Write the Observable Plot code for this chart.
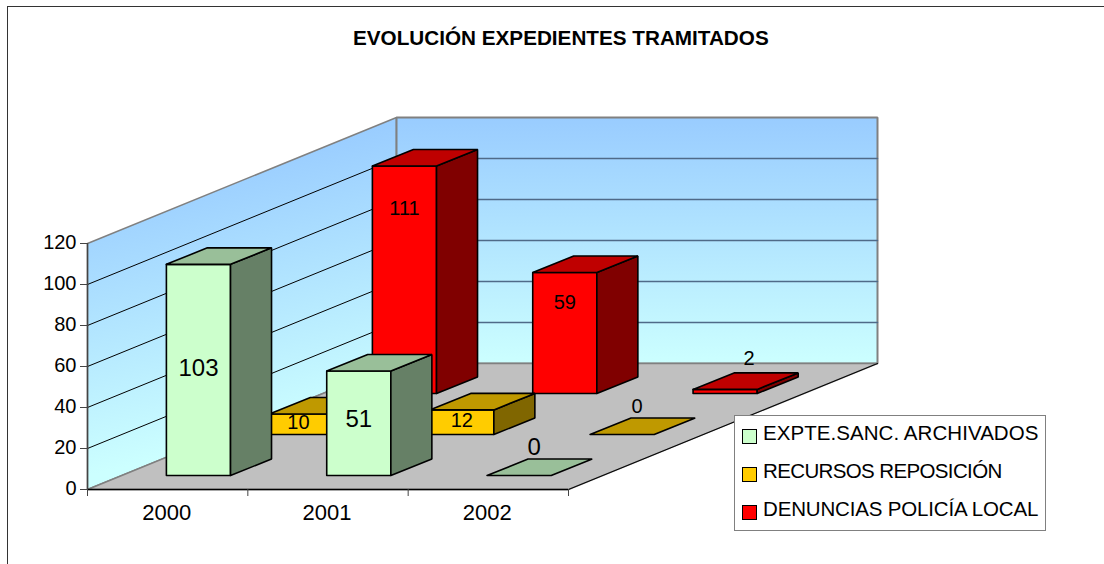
<!DOCTYPE html>
<html>
<head>
<meta charset="utf-8">
<script src="https://cdn.jsdelivr.net/npm/d3@7"></script>
<script src="https://cdn.jsdelivr.net/npm/@observablehq/plot@0.6"></script>
<style>
html,body{margin:0;padding:0;background:#fff;overflow:hidden}
body{width:1104px;height:564px;position:relative;font-family:"Liberation Sans",Arial,sans-serif;color:#000}
#frame{position:absolute;left:7px;top:6px;width:1097px;height:558px;border-left:1.5px solid #333;border-top:1.5px solid #333;box-sizing:border-box}
#chart{position:absolute;left:0;top:0}
#chart svg{display:block;background:none}
#title{position:absolute;left:353px;top:26px;font-weight:bold;font-size:20.7px;line-height:24px;white-space:nowrap}
#legend{position:absolute;left:734px;top:415px;width:312px;height:116px;box-sizing:border-box;border:1.5px solid #808080;background:#fff}
.row{position:absolute;left:7px;height:20px;line-height:20px;font-size:20.5px;white-space:nowrap}
.sw{position:absolute;left:0;top:3px;width:15px;height:15px;box-sizing:border-box;border:1.5px solid #000}
.lb{position:absolute;left:21px;top:-3px}
</style>
</head>
<body>
<div id="frame"></div>
<div id="chart"></div>
<div id="title"></div>
<div id="legend"></div>
<script>
const titleText = "EVOLUCIÓN EXPEDIENTES TRAMITADOS";
const categories = ["2000", "2001", "2002"];
const seriesNames = ["EXPTE.SANC. ARCHIVADOS", "RECURSOS REPOSICIÓN", "DENUNCIAS POLICÍA LOCAL"];
const expte = [103, 51, 0];
const recursos = [10, 12, 0];
const denuncias = [111, 59, 2];
const seriesValues = [expte, recursos, denuncias];
const frontColors = ["#CCFFCC", "#FFCC00", "#FF0000"];
const topColors = ["#99BF99", "#BF9900", "#BF0000"];
const sideColors = ["#668066", "#806600", "#800000"];
const valueTicks = [0, 20, 40, 60, 80, 100, 120];
const labelSizes = [24, 20, 20];
const labelSlopes = [0.478, 0.49, 0.883];
const labelOffsets = [2.9, 1, -7.66];
const legendSpacing = [0.06, -0.63, -0.17];

// oblique 3-D projection: converts depth (in pixels) to scale units
const catPx = 481 / 3, valPx = 246 / 120;
const floorDepth = [309, 126];
const barLeft = 0.28, barWidth = 0.4;
const slot = s => [34 + 103 * s, 14 + 41 * s];
const barDepth = [41, 16.5];
const pt = (c, dx, dy, v) => ({x: c + dx / catPx, y: v + dy / valPx});

const polys = [];
function poly(group, color, points) {
  const id = polys.length ? polys[polys.length - 1].id + 1 : 0;
  [...points, points[0]].forEach(p => polys.push({id, group, color, ...p}));
}
for (let s = 2; s >= 0; --s) {
  const [dx, dy] = slot(s);
  const [bx, by] = barDepth;
  categories.forEach((_, i) => {
    const v = seriesValues[s][i];
    const l = i + barLeft, r = l + barWidth;
    if (v > 0) {
      poly("bar", frontColors[s], [pt(l, dx, dy, 0), pt(r, dx, dy, 0), pt(r, dx, dy, v), pt(l, dx, dy, v)]);
      poly("bar", sideColors[s], [pt(r, dx, dy, 0), pt(r, dx + bx, dy + by, 0), pt(r, dx + bx, dy + by, v), pt(r, dx, dy, v)]);
    }
    poly("bar", topColors[s], [pt(l, dx, dy, v), pt(r, dx, dy, v), pt(r, dx + bx, dy + by, v), pt(l, dx + bx, dy + by, v)]);
  });
}

const labels = [];
seriesValues.forEach((vals, s) => vals.forEach((v, i) => {
  const [dx, dy] = slot(s);
  const c = i + barLeft + barWidth / 2;
  const small = v <= 2;
  const shift = s === 1 && v === 10 ? -3 : 0;
  labels.push({
    text: String(v), size: labelSizes[s],
    ...(small ? pt(c, dx + 15 + 4.5 * v, dy + 28 + 3.5 * v, 0)
              : pt(c, dx + shift, dy, v * labelSlopes[s] + labelOffsets[s]))
  });
}));

const [fx, fy] = floorDepth;
const backFloor = [{x: 0, y: 0}, {x: 3, y: 0}, pt(3, fx, fy, 0), pt(0, fx, fy, 0), {x: 0, y: 0}];
const backWall = [pt(0, fx, fy, 0), pt(3, fx, fy, 0), pt(3, fx, fy, 120), pt(0, fx, fy, 120), pt(0, fx, fy, 0)];
const leftWall = [{x: 0, y: 0}, pt(0, fx, fy, 0), pt(0, fx, fy, 120), {x: 0, y: 120}, {x: 0, y: 0}];
const leftGrid = valueTicks.slice(1, -1).flatMap(v => [{v, x: 0, y: v}, {v, ...pt(0, fx, fy, v)}]);
const backGrid = valueTicks.slice(1, -1).flatMap(v => [{v, ...pt(0, fx, fy, v)}, {v, ...pt(3, fx, fy, v)}]);
const rightEdge = [{x: 3, y: 0}, pt(3, fx, fy, 0)];

function gradients(index, {x, y}, values, dims, context) {
  const doc = context.document, ns = "http://www.w3.org/2000/svg";
  const defs = doc.createElementNS(ns, "defs");
  const make = (id, x1, y1, x2, y2) => {
    const g = doc.createElementNS(ns, "linearGradient");
    g.setAttribute("id", id);
    g.setAttribute("gradientUnits", "userSpaceOnUse");
    Object.entries({x1, y1, x2, y2}).forEach(([k, a]) => g.setAttribute(k, a));
    [["0", "#99CCFF"], ["1", "#CCFFFF"]].forEach(([o, c]) => {
      const st = doc.createElementNS(ns, "stop");
      st.setAttribute("offset", o); st.setAttribute("stop-color", c);
      g.appendChild(st);
    });
    defs.appendChild(g);
  };
  const top = pt(0, fx, fy, 120), bot = pt(0, fx, fy, 0);
  make("backGrad", 0, y(top.y), 0, y(bot.y));
  make("leftGrad", x(top.x), y(top.y), x(top.x) + 63, y(top.y) + 272);
  return defs;
}

const plot = Plot.plot({
  width: 1104, height: 564,
  marginLeft: 87, marginRight: 536, marginTop: 0, marginBottom: 75,
  x: {domain: [0, 3], range: [87, 568]},
  y: {domain: [0, 120], range: [489, 243]},
  color: {type: "identity"},
  style: {fontFamily: "'Liberation Sans', Arial, sans-serif", background: "none", overflow: "visible"},
  marks: [
    gradients,
    Plot.line(leftWall, {x: "x", y: "y", fill: "url(#leftGrad)", stroke: "#808080", strokeWidth: 1.5, strokeLinejoin: "miter"}),
    Plot.line(backWall, {x: "x", y: "y", fill: "url(#backGrad)", stroke: "#808080", strokeWidth: 2, strokeLinejoin: "miter"}),
    Plot.line(backFloor, {x: "x", y: "y", fill: "#C0C0C0", stroke: "#808080", strokeWidth: 1.5, strokeLinejoin: "miter"}),
    Plot.line(rightEdge, {x: "x", y: "y", stroke: "#000", strokeWidth: 1}),
    Plot.line(leftGrid, {x: "x", y: "y", z: "v", stroke: "#000", strokeWidth: 1}),
    Plot.line(backGrid, {x: "x", y: "y", z: "v", stroke: "#4F6A88", strokeWidth: 1.5}),
    Plot.ruleY([0], {stroke: "#000", strokeWidth: 1.5}),
    Plot.ruleX([0], {y1: 0, y2: 120, stroke: "#444", strokeWidth: 1.5}),
    Plot.axisY({ticks: valueTicks, tickSize: 7, tickFormat: () => "", label: null, stroke: "#444"}),
    Plot.axisY({ticks: valueTicks, tickSize: 0, tickPadding: 11, dy: -1, fontSize: 20, label: null, fill: "#000"}),
    Plot.axisX({ticks: [0, 1, 2, 3], tickSize: 7, tickFormat: () => "", label: null, stroke: "#444"}),
    Plot.axisX({ticks: [0.5, 1.5, 2.5], tickSize: 0, tickPadding: 15, dx: -1, fontSize: 22, label: null,
      tickFormat: v => categories[Math.floor(v)], fill: "#000"}),
    Plot.line(polys, {x: "x", y: "y", z: "id", fill: "color", stroke: "#000", strokeWidth: 1.6, strokeLinejoin: "miter"}),
    Plot.text(labels, {x: "x", y: "y", text: "text", fontSize: "size", fill: "#000", textAnchor: "middle", lineAnchor: "middle"})
  ]
});
document.getElementById("chart").appendChild(plot);

document.getElementById("title").textContent = titleText;
const legend = document.getElementById("legend");
seriesNames.forEach((name, i) => {
  const row = document.createElement("div");
  row.className = "row";
  row.style.top = (10 + 38 * i) + "px";
  const sw = document.createElement("div");
  sw.className = "sw";
  sw.style.background = frontColors[i];
  const lb = document.createElement("div");
  lb.className = "lb";
  lb.style.letterSpacing = legendSpacing[i] + "px";
  lb.textContent = name;
  row.append(sw, lb);
  legend.appendChild(row);
});
</script>
</body>
</html>
